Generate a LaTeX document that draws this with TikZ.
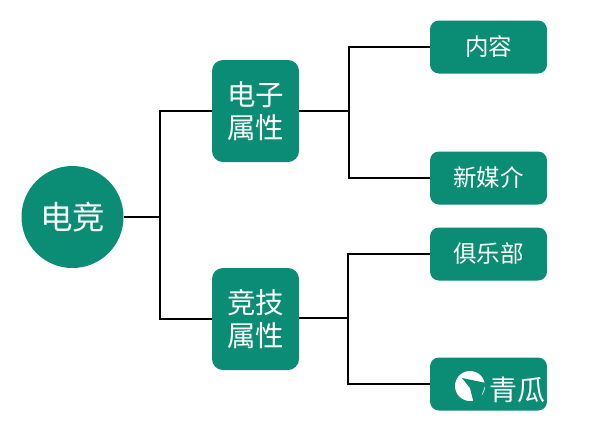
\documentclass[tikz,border=0pt]{standalone}
\usepackage{fontspec}
\setmainfont{Noto Sans CJK SC}
\definecolor{teal1}{HTML}{0B8C74}
\tikzset{
 base/.style={fill=teal1,text=white,inner sep=0pt,align=center},
 leaf/.style={base,rounded corners=9pt,minimum width=117pt,minimum height=53pt,font=\fontsize{23.5}{26}\selectfont},
 mid/.style={base,rounded corners=11pt,minimum width=87pt,minimum height=102pt,font=\fontsize{28.5}{33}\selectfont},
 hub/.style={base,circle,minimum size=102pt,font=\fontsize{32.5}{36}\selectfont},
 link/.style={draw=black,line width=2pt,line join=miter}
}
\begin{document}
\begin{tikzpicture}[x=1pt,y=-1pt]
\useasboundingbox (0,0) rectangle (612,432);
\fill[white] (0,0) rectangle (612,432);
\node[hub] (root) at (72.5,217) {电竞};
\node[mid] (a) at (255.5,111) {电子\\属性};
\node[mid] (b) at (255.5,319) {竞技\\属性};
\node[leaf] (a1) at (488.5,47) {内容};
\node[leaf] (a2) at (488.5,178) {新媒介};
\node[leaf] (b1) at (488.5,254) {俱乐部};
\node[leaf] (b2) at (488.5,384) {};
\coordinate (j0) at (160,217);
\coordinate (ja) at (349,111);
\coordinate (jb) at (348,318);
\draw[link] (root.east) -- (j0);
\draw[link] (a.west) -| (j0);
\draw[link] (b.west) -| (j0);
\draw[link] (a.east |- ja) -- (ja);
\draw[link] (b.east |- jb) -- (jb);
\draw[link] (a1.west) -| (ja);
\draw[link] (a2.west) -| (ja);
\draw[link] (b1.west) -| (jb);
\draw[link] (b2.west) -| (jb);
\fill[white] (470,386) circle (15pt);
\fill[teal1] (462,378) -- (486,383) -- (480,400) -- (474,404) -- (470,388) -- cycle;
\node[text=white,font=\fontsize{28}{30}\selectfont,inner sep=0pt] (wm) at (517.5,390) {青瓜};
\end{tikzpicture}
\end{document}
